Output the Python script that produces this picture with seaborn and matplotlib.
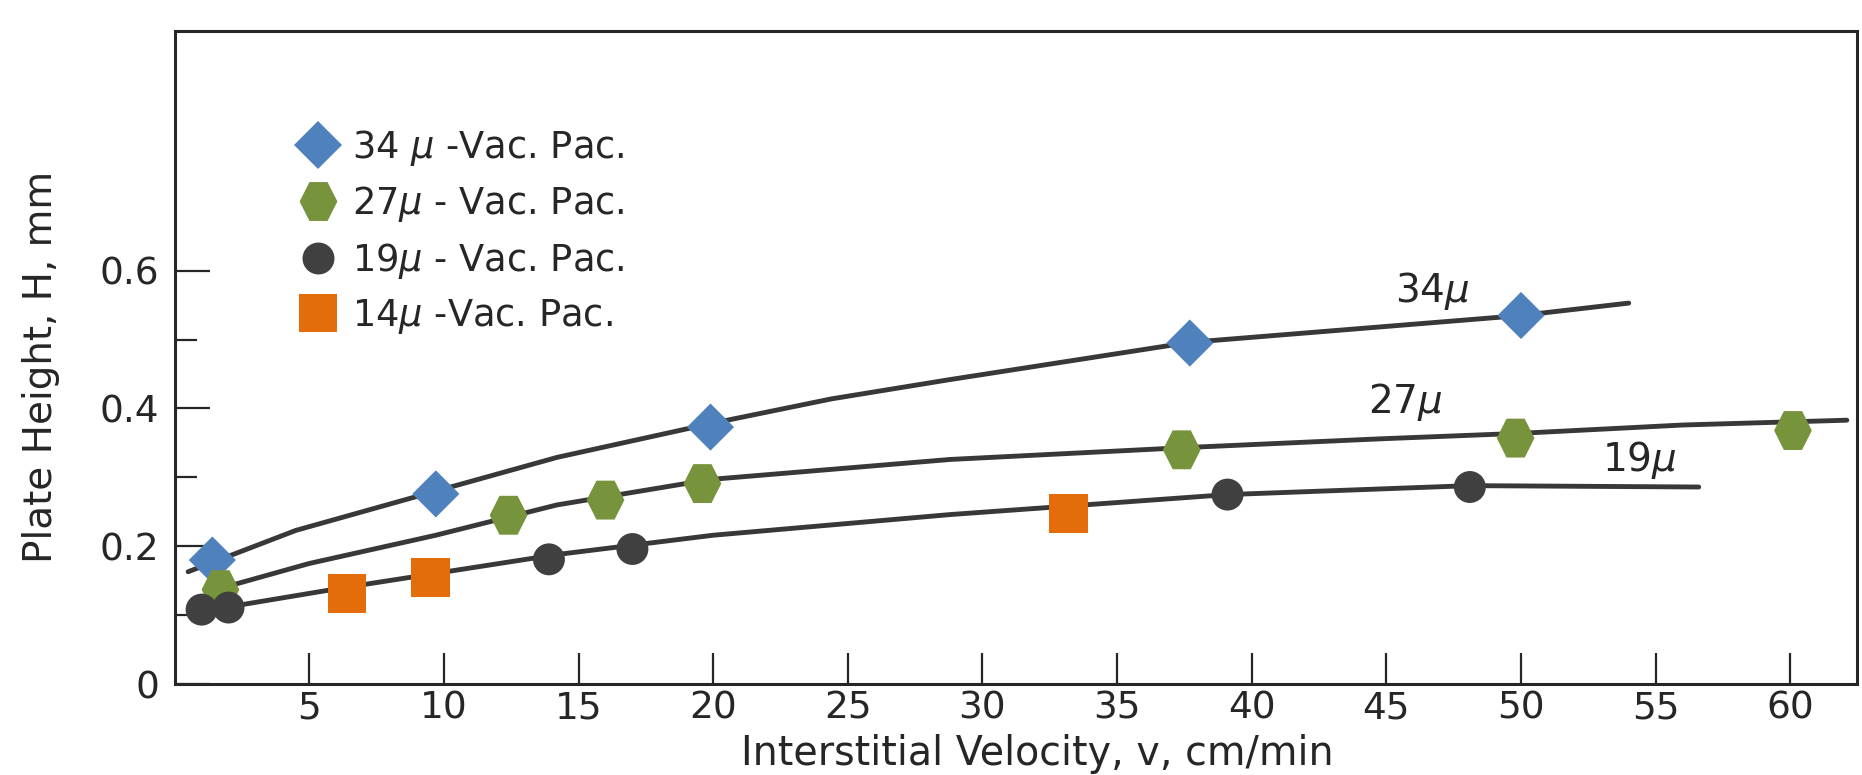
import matplotlib
matplotlib.use("Agg")
import matplotlib.pyplot as plt
import seaborn as sns
from matplotlib.lines import Line2D
from matplotlib.path import Path
from matplotlib.ticker import FixedLocator

# ---------------- data ----------------
# measured points  (v in cm/min, H in mm)
v34 = [1.4, 9.7, 19.9, 37.7, 50.0]
H34 = [0.180, 0.276, 0.373, 0.495, 0.535]

v27 = [1.7, 12.4, 16.0, 19.6, 37.4, 49.8, 60.1]
H27 = [0.137, 0.245, 0.267, 0.291, 0.340, 0.357, 0.368]

v19 = [1.0, 2.0, 13.9, 17.0, 39.1, 48.1]
H19 = [0.108, 0.111, 0.181, 0.196, 0.275, 0.286]

v14 = [6.4, 9.5, 33.2]
H14 = [0.131, 0.155, 0.247]

# hand-drawn curves
c34_v = [0.5, 4.5, 9.7, 14.2, 19.9, 24.4, 28.8, 37.7, 50.0, 54.0]
c34_H = [0.163, 0.223, 0.280, 0.329, 0.378, 0.414, 0.442, 0.496, 0.535, 0.553]

c27_v = [1.8, 5.0, 9.7, 14.2, 19.9, 28.8, 37.4, 44.8, 50.0, 56.0, 62.1]
c27_H = [0.140, 0.175, 0.216, 0.260, 0.297, 0.326, 0.343, 0.356, 0.364, 0.376, 0.383]

c19_v = [2.0, 6.3, 14.2, 20.0, 28.8, 39.1, 48.1, 56.6]
c19_H = [0.112, 0.140, 0.188, 0.216, 0.246, 0.275, 0.288, 0.286]

legend_labels = ["34 $\\mu$ -Vac. Pac.", "27$\\mu$ - Vac. Pac.",
                 "19$\\mu$ - Vac. Pac.", "14$\\mu$ -Vac. Pac."]
curve_labels = ["34$\\mu$", "27$\\mu$", "19$\\mu$"]
curve_label_v = [46.7, 45.7, 54.4]
curve_label_H = [0.571, 0.409, 0.325]

x_ticks = [5, 10, 15, 20, 25, 30, 35, 40, 45, 50, 55, 60]
y_ticks = [0, 0.2, 0.4, 0.6]
y_ticklabels = ["0", "0.2", "0.4", "0.6"]
y_minor = [0.1, 0.3, 0.5]

# ---------------- style ----------------
sns.set_theme(style="ticks")
plt.rcParams["font.family"] = ["DejaVu Sans"]
plt.rcParams["mathtext.fontset"] = "dejavusans"

BLUE = "#4F81BD"
GREEN = "#77933C"
ORANGE = "#E46C0A"
DARK = "#404040"
LINE = "#383838"
INK = "#262626"

hex_marker = Path([(1.0, 0.0), (0.48, 1.03), (-0.48, 1.03), (-1.0, 0.0),
                   (-0.48, -1.03), (0.48, -1.03), (1.0, 0.0)], closed=True)

fig = plt.figure(figsize=(18.62, 7.75), dpi=100)
ax = fig.add_axes([0.0938, 0.1174, 0.9034, 0.8426])

# curves
for cv, ch in [(c34_v, c34_H), (c27_v, c27_H), (c19_v, c19_H)]:
    sns.lineplot(x=cv, y=ch, ax=ax, color=LINE, linewidth=3.5,
                 sort=False, estimator=None, zorder=2)

# points
sns.scatterplot(x=v34, y=H34, ax=ax, marker="D", s=24 ** 2, color=BLUE,
                edgecolor="none", linewidth=0, zorder=5)
sns.scatterplot(x=v27, y=H27, ax=ax, marker=hex_marker, s=28 ** 2, color=GREEN,
                edgecolor="none", linewidth=0, zorder=5)
sns.scatterplot(x=v19, y=H19, ax=ax, marker="o", s=23 ** 2, color=DARK,
                edgecolor="none", linewidth=0, zorder=5)
sns.scatterplot(x=v14, y=H14, ax=ax, marker="s", s=28 ** 2, color=ORANGE,
                edgecolor="none", linewidth=0, zorder=5)

# curve labels
for t, cx, cy in zip(curve_labels, curve_label_v, curve_label_H):
    ax.text(cx, cy, t, fontsize=28, ha="center", va="center", color=INK)

# legend
handles = [
    Line2D([], [], ls="none", marker="D", ms=24, color=BLUE, mew=0),
    Line2D([], [], ls="none", marker=hex_marker, ms=28, color=GREEN, mew=0),
    Line2D([], [], ls="none", marker="o", ms=23, color=DARK, mew=0),
    Line2D([], [], ls="none", marker="s", ms=28, color=ORANGE, mew=0),
]
leg = ax.legend(handles, legend_labels, loc="upper left",
                bbox_to_anchor=(0.0746, 0.852), frameon=False, fontsize=26.5,
                handlelength=0.98, handletextpad=0.43, labelspacing=0.45,
                borderpad=0, borderaxespad=0)
for txt in leg.get_texts():
    txt.set_color(INK)

# axes
ax.set_xlim(0, 62.47)
ax.set_ylim(0, 0.948)
ax.set_xticks(x_ticks)
ax.set_xticklabels([str(t) for t in x_ticks])
ax.set_yticks(y_ticks)
ax.set_yticklabels(y_ticklabels)
ax.yaxis.set_minor_locator(FixedLocator(y_minor))

ax.tick_params(axis="x", direction="in", length=22, width=1.6, color=INK,
               labelsize=27, pad=5, labelcolor=INK)
ax.tick_params(axis="y", which="major", direction="in", length=25, width=1.6,
               color=INK, labelsize=27, pad=11, labelcolor=INK)
ax.tick_params(axis="y", which="minor", direction="in", length=16, width=1.6,
               color=INK)

for sp in ax.spines.values():
    sp.set_visible(True)
    sp.set_linewidth(2.2)
    sp.set_color(INK)

ax.set_xlabel("Interstitial Velocity, v, cm/min", fontsize=28.5, color=INK)
ax.set_ylabel("Plate Height, H, mm", fontsize=28, color=INK)
ax.xaxis.set_label_coords(0.513, -0.076)
ax.yaxis.set_label_coords(-0.068, 0.485)

fig.savefig("out.png", dpi=100)
